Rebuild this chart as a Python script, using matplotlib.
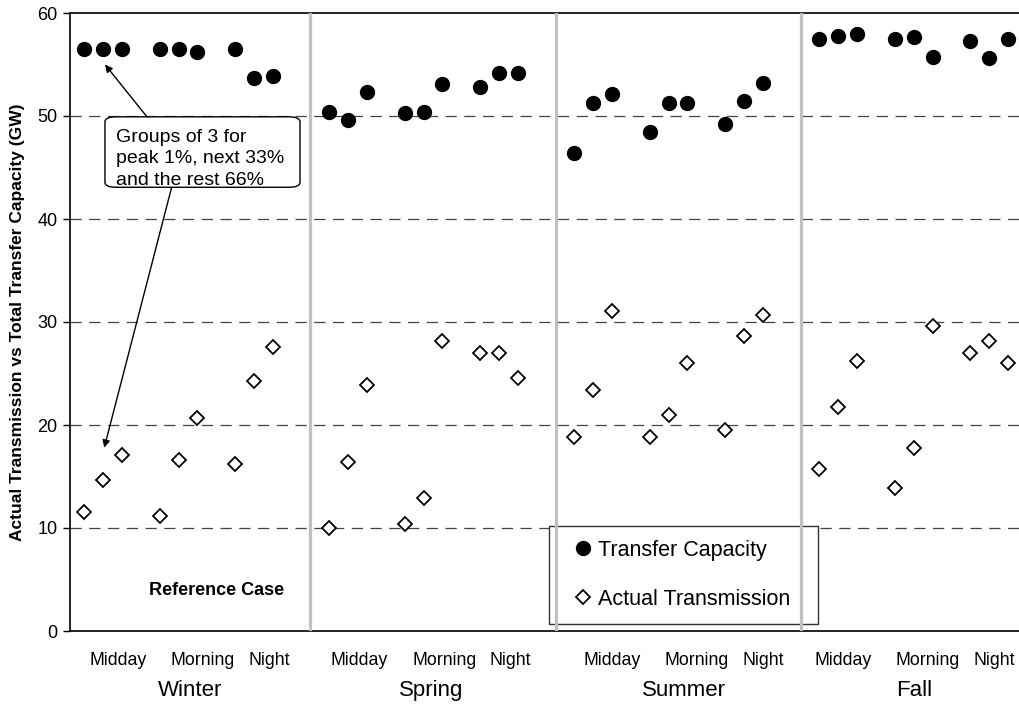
import matplotlib.pyplot as plt
from matplotlib.lines import Line2D
from matplotlib.patches import FancyBboxPatch, Rectangle
import matplotlib.transforms as mtransforms

plt.rcParams['font.family'] = ['Liberation Sans', 'DejaVu Sans']

seasons = ["Winter", "Spring", "Summer", "Fall"]
periods = ["Midday", "Morning", "Night"]

# three points per period: peak 1%, next 33%, rest 66%
capacity = {
    "Winter": [56.5, 56.5, 56.5, 56.5, 56.5, 56.2, 56.5, 53.7, 53.9],
    "Spring": [50.4, 49.6, 52.3, 50.3, 50.4, 53.1, 52.8, 54.2, 54.2],
    "Summer": [46.4, 51.3, 52.1, 48.4, 51.3, 51.3, 49.2, 51.5, 53.2],
    "Fall":   [57.5, 57.8, 58.0, 57.5, 57.7, 55.7, 57.3, 55.6, 57.5],
}
transmission = {
    "Winter": [11.6, 14.7, 17.1, 11.2, 16.6, 20.7, 16.2, 24.3, 27.6],
    "Spring": [10.0, 16.4, 23.9, 10.4, 12.9, 28.2, 27.0, 27.0, 24.6],
    "Summer": [18.8, 23.4, 31.1, 18.8, 21.0, 26.0, 19.5, 28.6, 30.7],
    "Fall":   [15.7, 21.7, 26.2, 13.9, 17.8, 29.6, 27.0, 28.2, 26.0],
}

slots = [1, 2, 3, 5, 6, 7, 9, 10, 11]
season_width = 13
# label placement inside each season block (x units)
period_offsets = [2.7, 7.2, 10.7]
label_shift = [0.1, -0.1, 0.3, -0.45]

fig = plt.figure(figsize=(10.2, 7.04), dpi=100)
ax = fig.add_axes([70 / 1020, 73 / 704, 950 / 1020, 618 / 704])

for i, s in enumerate(seasons):
    xs = [i * season_width + k for k in slots]
    ax.plot(xs, capacity[s], linestyle="none", marker="o", markersize=10,
            color="black", zorder=3)
    ax.plot(xs, transmission[s], linestyle="none", marker="D", markersize=7.5,
            markerfacecolor="white", markeredgecolor="black",
            markeredgewidth=1.3, zorder=3)

# season dividers
for i in range(1, len(seasons)):
    ax.axvline(i * season_width, color="#c0c0c0", linewidth=2.3, zorder=6)

ax.set_xlim(0.244, 50.64)
ax.set_ylim(0, 60)
ax.set_yticks(range(0, 61, 10))
ax.set_xticks([])
ax.tick_params(axis="y", direction="out", length=5, width=1, pad=4,
               labelsize=13)
for y in range(10, 60, 10):
    ax.axhline(y, color="#444444", linewidth=0.9, dashes=(9, 6), zorder=1)

ax.spines["right"].set_visible(False)
for side in ["left", "top", "bottom"]:
    ax.spines[side].set_linewidth(1.2)
    ax.spines[side].set_color("black")

ax.set_ylabel("Actual Transmission vs Total Transfer Capacity (GW)",
              fontsize=12.5, fontweight="bold")
ax.yaxis.set_label_coords(-0.047, 0.5)

# period and season labels under the axis
trans = mtransforms.blended_transform_factory(ax.transData, ax.transAxes)
for i, s in enumerate(seasons):
    base = i * season_width + label_shift[i]
    for p, off in zip(periods, period_offsets):
        ax.text(base + off, -0.0485, p, transform=trans, ha="center",
                va="center", fontsize=12.8, clip_on=False)
    ax.text(base + 6.5, -0.0955, s, transform=trans, ha="center",
            va="center", fontsize=16, clip_on=False)

# legend with its own white box
box = Rectangle((0.504, 0.0113), 0.283, 0.159, transform=ax.transAxes,
                facecolor="white", edgecolor="#333333", linewidth=1.0,
                zorder=4)
ax.add_patch(box)
handles = [
    Line2D([], [], linestyle="none", marker="o", markersize=10,
           color="black"),
    Line2D([], [], linestyle="none", marker="D", markersize=7.5,
           markerfacecolor="white", markeredgecolor="black",
           markeredgewidth=1.3),
]
leg = ax.legend(handles, ["Transfer Capacity", "Actual Transmission"],
                loc="center left", bbox_to_anchor=(0.531, 0.091),
                frameon=False, fontsize=15.5, handlelength=0.8,
                handletextpad=0.3, labelspacing=1.3, borderpad=0,
                borderaxespad=0)
leg.set_zorder(5)

# note box and arrows
note = FancyBboxPatch((0.0368, 0.718), 0.2053, 0.114,
                      boxstyle="round,pad=0,rounding_size=0.012",
                      transform=ax.transAxes, facecolor="white",
                      edgecolor="black", linewidth=1.0, zorder=5,
                      mutation_aspect=618 / 950)
ax.add_patch(note)
ax.text(0.0484, 0.813, "Groups of 3 for\npeak 1%, next 33%\nand the rest 66%",
        transform=ax.transAxes, ha="left", va="top", fontsize=14,
        linespacing=1.35, zorder=6)
arrow = dict(arrowstyle="-|>", color="black", lw=1.0, mutation_scale=11,
             shrinkA=0, shrinkB=0)
ax.annotate("", xy=(2.1, 55.0), xycoords="data",
            xytext=(0.081, 0.832), textcoords="axes fraction",
            arrowprops=arrow, zorder=6)
ax.annotate("", xy=(2.06, 17.8), xycoords="data",
            xytext=(0.107, 0.718), textcoords="axes fraction",
            arrowprops=arrow, zorder=6)

ax.text(0.154, 0.066, "Reference Case", transform=ax.transAxes,
        ha="center", va="center", fontsize=13, fontweight="bold")

fig.savefig("out.png", dpi=100)
